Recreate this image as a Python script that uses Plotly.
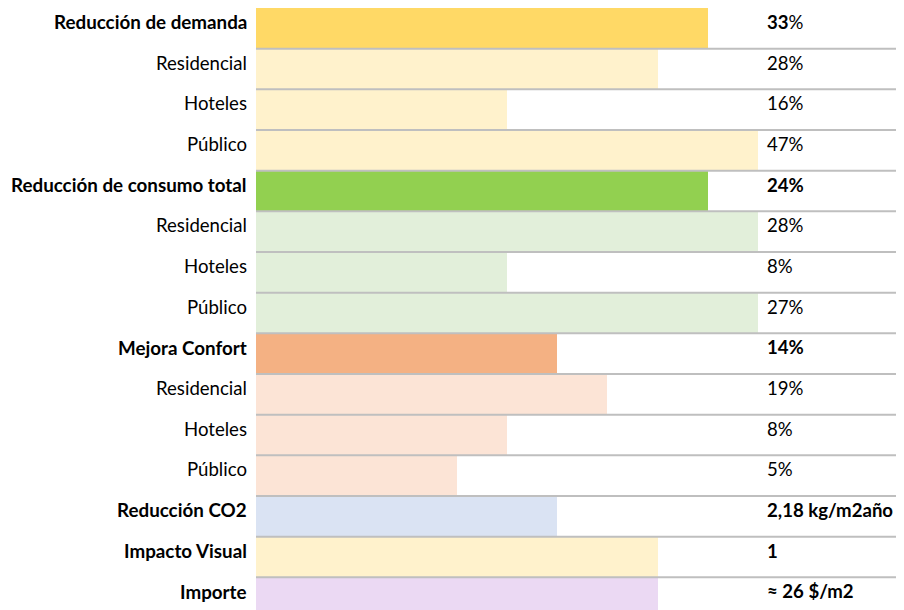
import plotly.graph_objects as go

categories = ["Reducción de demanda", "Residencial", "Hoteles", "Público",
              "Reducción de consumo total", "Residencial", "Hoteles", "Público",
              "Mejora Confort", "Residencial", "Hoteles", "Público",
              "Reducción CO2", "Impacto Visual", "Importe"]
scores = [9, 8, 5, 10, 9, 10, 5, 10, 6, 7, 5, 4, 6, 8, 8]
value_labels = ["<b>33</b>%", "28%", "16%", "47%",
                "<b>24%</b>", "28%", "8%", "27%",
                "<b>14%</b>", "19%", "8%", "5%",
                "<b>2,18 kg/m2año</b>", "<b>1</b>", "<b>≈ 26 $/m2</b>"]
bold_rows = [True, False, False, False, True, False, False, False,
             True, False, False, False, True, True, True]
colors = ["#FFD966", "#FFF2CC", "#FFF2CC", "#FFF2CC",
          "#92D050", "#E2EFDA", "#E2EFDA", "#E2EFDA",
          "#F4B183", "#FCE4D6", "#FCE4D6", "#FCE4D6",
          "#DAE3F3", "#FFF2CC", "#EBD9F3"]

n = len(categories)
ypos = list(range(n))

fig = go.Figure()
fig.add_trace(go.Bar(x=scores, y=ypos, orientation="h", marker=dict(color=colors, line=dict(width=0)),
                     width=1.0, hoverinfo="skip"))

FONT = "Lato, Calibri, Carlito, sans-serif"
annotations = []
for i, (cat, lab, b) in enumerate(zip(categories, value_labels, bold_rows)):
    annotations.append(dict(x=0, xref="paper", y=i, yref="y", text=(f"<b>{cat}</b>" if b else cat),
                            xanchor="right", yanchor="middle", xshift=-7, yshift=6.5, showarrow=False,
                            font=dict(family=FONT, size=18.8 if b else 18.6, color="#000000")))
    annotations.append(dict(x=10.14, xref="x", y=i, yref="y", text=lab,
                            xanchor="left", yanchor="middle", xshift=0, yshift=6.5, showarrow=False,
                            font=dict(family=FONT, size=18.6, color="#000000")))

shapes = []
for i in range(n - 1):
    shapes.append(dict(type="line", xref="paper", x0=0, x1=1, yref="y", y0=i + 0.5, y1=i + 0.5,
                       line=dict(color="#BFBFBF", width=2), layer="above"))

fig.update_layout(
    width=904, height=610,
    margin=dict(l=248, r=0, t=0, b=0),
    paper_bgcolor="white", plot_bgcolor="white",
    showlegend=False, bargap=0,
    annotations=annotations, shapes=shapes,
    xaxis=dict(range=[0, 13.07], visible=False, fixedrange=True),
    yaxis=dict(range=[14.5, -0.5], visible=False, fixedrange=True),
)
fig.write_html("out.html")
